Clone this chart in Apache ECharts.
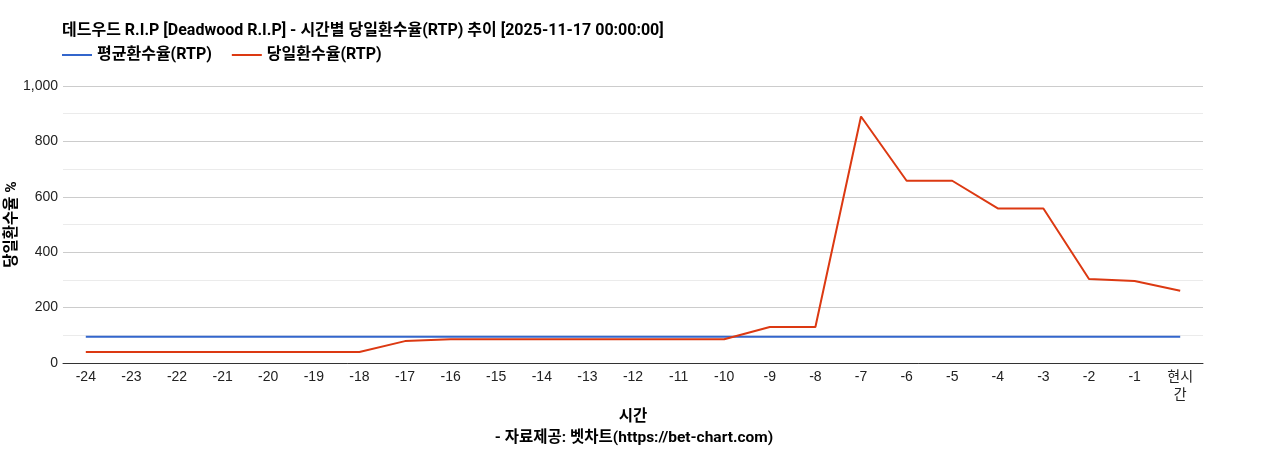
<!DOCTYPE html>
<html><head><meta charset="utf-8">
<script src="https://cdn.jsdelivr.net/npm/echarts@6/dist/echarts.min.js"></script>
<style>html,body{margin:0;padding:0;background:#fff}#c{width:1268px;height:450px}</style>
</head><body><div id="c"></div>
<script>
const categories = ['-24','-23','-22','-21','-20','-19','-18','-17','-16','-15','-14','-13','-12','-11','-10','-9','-8','-7','-6','-5','-4','-3','-2','-1','현시간'];
const avgRTP = [95,95,95,95,95,95,95,95,95,95,95,95,95,95,95,95,95,95,95,95,95,95,95,95,95];
const dayRTP = [40,40,40,40,40,40,40,79,86,86,86,86,86,86,86,130,130,890,658,658,558,558,303,296,261];
const F = 'Arial, "Liberation Sans", "Noto Sans CJK KR", sans-serif';
const FT = 'Roboto, "Noto Sans CJK KR", sans-serif';
const chart = echarts.init(document.getElementById('c'));
chart.setOption({
  animation: false,
  textStyle: {fontFamily: F},
  title: [
    {text: '데드우드 R.I.P [Deadwood R.I.P] - 시간별 당일환수율(RTP) 추이 [2025-11-17 00:00:00]', left: 62, top: 23, padding: 0,
     textStyle: {fontSize: 16, fontWeight: 'bold', color: '#000', fontFamily: FT}},
    {text: '- 자료제공: 벳차트(https://bet-chart.com)', left: 'center', top: 430, padding: 0,
     textStyle: {fontSize: 15.5, fontWeight: 'bold', color: '#000', fontFamily: FT}}
  ],
  legend: {left: 62, top: 47, padding: 0, icon: 'rect', itemWidth: 30, itemHeight: 2, itemGap: 20,
    textStyle: {fontSize: 16, fontWeight: 'bold', color: '#000', fontFamily: FT},
    data: ['평균환수율(RTP)', '당일환수율(RTP)']},
  grid: {left: 63, right: 65, top: 86, bottom: 87, containLabel: false, outerBoundsMode: 'none'},
  xAxis: {type: 'category', data: categories, boundaryGap: true,
    name: '시간', nameLocation: 'middle', nameGap: 46, nameMoveOverlap: false,
    nameTextStyle: {fontSize: 15.5, fontWeight: 'bold', color: '#000', fontFamily: FT},
    axisLine: {lineStyle: {color: '#333'}}, axisTick: {show: false},
    axisLabel: {interval: 0, fontSize: 14, color: '#222', margin: 5, lineHeight: 18,
      formatter: v => v === '현시간' ? '현시\n간' : v}},
  yAxis: {type: 'value', min: 0, max: 1000, interval: 200,
    name: '당일환수율 %', nameLocation: 'middle', nameGap: 43, nameRotate: 90, nameMoveOverlap: false,
    nameTextStyle: {fontSize: 15.5, fontWeight: 'bold', color: '#000', fontFamily: FT},
    axisLine: {show: false}, axisTick: {show: false},
    axisLabel: {fontSize: 14, color: '#222', margin: 5},
    splitLine: {lineStyle: {color: '#cccccc'}},
    minorTick: {show: false, splitNumber: 2},
    minorSplitLine: {show: true, lineStyle: {color: '#ebebeb'}}},
  series: [
    {name: '평균환수율(RTP)', type: 'line', data: avgRTP, symbol: 'none', color: '#3366cc', lineStyle: {width: 2}},
    {name: '당일환수율(RTP)', type: 'line', data: dayRTP, symbol: 'none', color: '#dc3912', lineStyle: {width: 2}}
  ]
});
</script></body></html>
